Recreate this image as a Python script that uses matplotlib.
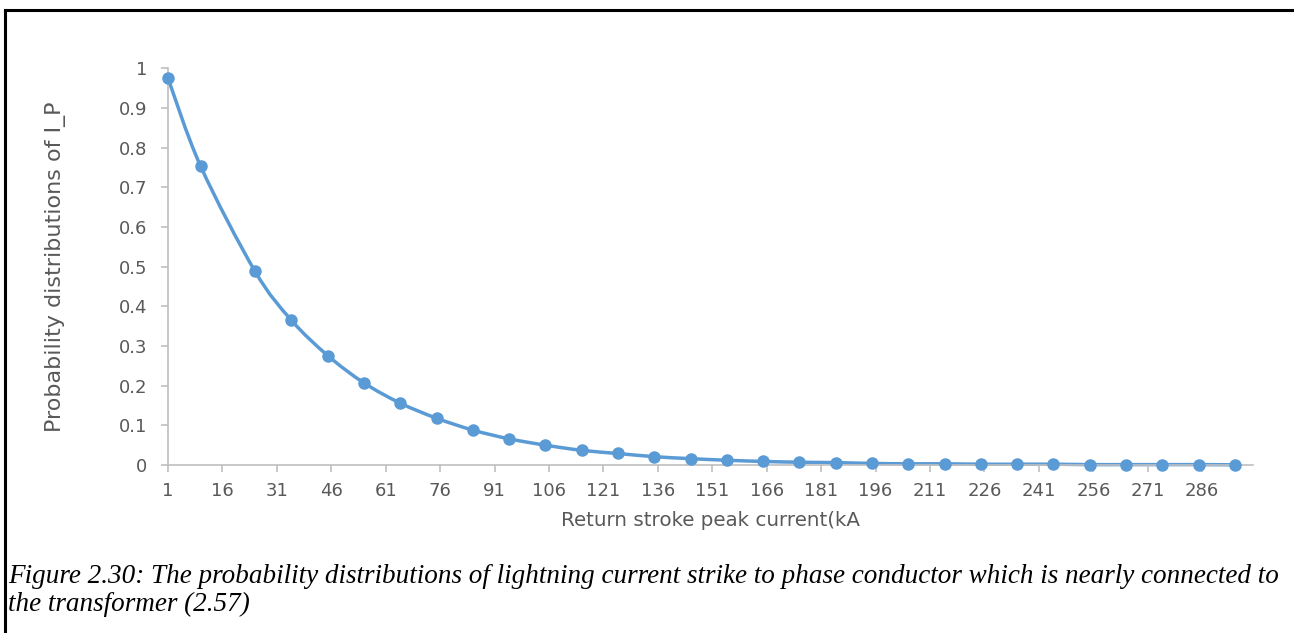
import matplotlib
matplotlib.use('Agg')
import matplotlib.pyplot as plt
import numpy as np
from matplotlib.path import Path
from matplotlib.patches import PathPatch

# Return stroke peak current (kA) and probability of I_P
current_ka = [1, 10, 25, 35, 45, 55, 65, 75, 85, 95, 105, 115, 125, 135, 145,
              155, 165, 175, 185, 195, 205, 215, 225, 235, 245, 255, 265, 275, 285, 295]
prob_ip = [0.975, 0.753, 0.488, 0.365, 0.276, 0.207, 0.156, 0.118, 0.088, 0.066,
           0.050, 0.037, 0.029, 0.021, 0.016, 0.012, 0.009, 0.007, 0.006, 0.004,
           0.003, 0.003, 0.002, 0.002, 0.002, 0.001, 0.001, 0.001, 0.001, 0.0005]
x_ticks = list(range(1, 300, 15))
y_ticks = [0, 0.1, 0.2, 0.3, 0.4, 0.5, 0.6, 0.7, 0.8, 0.9, 1]
y_tick_labels = ['0', '0.1', '0.2', '0.3', '0.4', '0.5', '0.6', '0.7', '0.8', '0.9', '1']

blue = '#5B9BD5'
grey_text = '#595959'
grey_axis = '#BFBFBF'

fig = plt.figure(figsize=(12.94, 6.33), dpi=100)
ax = fig.add_axes([168 / 1294, 1 - 465 / 633, (1253 - 168) / 1294, (465 - 68.3) / 633])

# smoothed line like excel (catmull-rom as bezier segments)
pts = np.column_stack([current_ka, prob_ip]).astype(float)
ext = np.vstack([pts[0], pts, pts[-1]])
verts = [tuple(pts[0])]
codes = [Path.MOVETO]
for i in range(len(pts) - 1):
    p0, p1, p2, p3 = ext[i], ext[i + 1], ext[i + 2], ext[i + 3]
    c1 = p1 + (p2 - p0) / 6.0
    c2 = p2 - (p3 - p1) / 6.0
    verts += [tuple(c1), tuple(c2), tuple(p2)]
    codes += [Path.CURVE4] * 3
ax.add_patch(PathPatch(Path(verts, codes), fc='none', ec=blue, lw=2.5,
                       capstyle='round', joinstyle='round', clip_on=False))
ax.plot(current_ka, prob_ip, ls='none', marker='o', ms=8, color=blue, clip_on=False, zorder=3)

ax.set_xlim(1, 300)
ax.set_ylim(0, 1)
ax.set_xticks(x_ticks)
ax.set_yticks(y_ticks)
ax.set_yticklabels(y_tick_labels)

for side in ['top', 'right']:
    ax.spines[side].set_visible(False)
for side in ['left', 'bottom']:
    ax.spines[side].set_color(grey_axis)
    ax.spines[side].set_linewidth(1.2)
ax.tick_params(axis='both', colors=grey_axis, labelcolor=grey_text, length=5,
               width=1.2, labelsize=13)
ax.tick_params(axis='x', pad=7)
ax.tick_params(axis='y', pad=10)

ax.set_xlabel('Return stroke peak current(kA', fontsize=14.3, color=grey_text, labelpad=8)
ax.set_ylabel('Probability distributions of I_P', fontsize=16, color=grey_text, labelpad=38)

# frame lines of the figure box
fig.add_artist(plt.Line2D([5 / 1294, 5 / 1294], [0, 1 - 10 / 633], color='black', lw=2.2))
fig.add_artist(plt.Line2D([5 / 1294, 1], [1 - 10 / 633, 1 - 10 / 633], color='black', lw=2.2))

caption_1 = ('Figure 2.30: The probability distributions of lightning current strike to phase '
             'conductor which is nearly connected to')
caption_2 = 'the transformer (2.57)'
fig.text(8 / 1294, 1 - 583 / 633, caption_1, fontsize=19.5, family='Liberation Serif',
         style='italic', va='baseline', ha='left')
fig.text(8 / 1294, 1 - 611 / 633, caption_2, fontsize=19.5, family='Liberation Serif',
         style='italic', va='baseline', ha='left')

fig.savefig('out.png', dpi=100, facecolor='white')
